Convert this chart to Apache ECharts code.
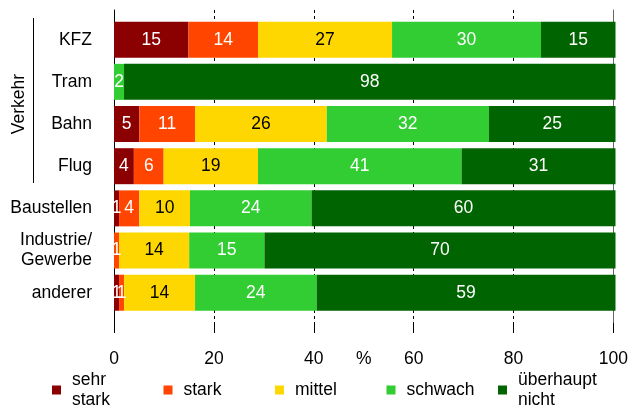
<!DOCTYPE html>
<html>
<head>
<meta charset="utf-8">
<script src="https://cdn.jsdelivr.net/npm/echarts@6/dist/echarts.min.js"></script>
<style>html,body{margin:0;padding:0;background:#fff}#c{width:631px;height:408px}</style>
</head>
<body>
<div id="c"></div>
<script>
const categories = ['KFZ', 'Tram', 'Bahn', 'Flug', 'Baustellen', 'Industrie/\nGewerbe', 'anderer'];
const seriesNames = ['sehr\nstark', 'stark', 'mittel', 'schwach', 'überhaupt\nnicht'];
const sehrStark  = [15, 0, 5, 4, 1, 0, 1];
const stark      = [14, 0, 11, 6, 4, 1, 1];
const mittel     = [27, 0, 26, 19, 10, 14, 14];
const schwach    = [30, 2, 32, 41, 24, 15, 24];
const ueberhaupt = [15, 98, 25, 31, 60, 70, 59];
const xTicks = [0, 20, 40, 60, 80, 100];

const colors = ['#8B0000', '#FF4500', '#FFD700', '#32CD32', '#006400'];
const labelColors = ['#fff', '#fff', '#000', '#fff', '#fff'];
const raw = [sehrStark, stark, mittel, schwach, ueberhaupt];
const rowSum = categories.map((_, i) => raw.reduce((s, a) => s + a[i], 0));

const FONT = 'Liberation Sans, Arial, sans-serif';
const FS = 17.5;

const series = raw.map((arr, k) => ({
  name: seriesNames[k],
  type: 'bar',
  stack: 'total',
  xAxisIndex: 0,
  yAxisIndex: 0,
  barWidth: 36,
  itemStyle: { color: colors[k] },
  label: {
    show: true,
    position: 'inside',
    color: labelColors[k],
    fontSize: FS,
    fontFamily: FONT,
    formatter: p => (arr[p.dataIndex] ? String(arr[p.dataIndex]) : '')
  },
  data: arr.map((v, i) => v / rowSum[i] * 100)
}));

const chart = echarts.init(document.getElementById('c'), null, { renderer: 'canvas' });
chart.setOption({
  animation: false,
  backgroundColor: '#fff',
  textStyle: { fontFamily: FONT },
  grid: [
    { left: 114, right: 15.5, top: 18.6, height: 295.2 },
    { left: 114, right: 15.5, top: 10, bottom: 85 }
  ],
  xAxis: [
    { gridIndex: 0, type: 'value', min: 0, max: 100, show: false },
    {
      gridIndex: 1, type: 'value', min: 0, max: 100, interval: 20,
      axisLine: { show: false },
      axisTick: { show: true, length: 10, lineStyle: { color: '#000' } },
      splitLine: { show: true, showMinLine: false, showMaxLine: false, lineStyle: { color: '#000', type: [3, 3], width: 1 } },
      axisLabel: { margin: 27, fontSize: FS, color: '#000', fontFamily: FONT,
        formatter: v => (xTicks.indexOf(v) >= 0 ? String(v) : '') },
      name: '%', nameLocation: 'middle', nameGap: 27, nameMoveOverlap: false,
      nameTextStyle: { fontSize: FS, color: '#000', fontFamily: FONT, verticalAlign: 'top' }
    }
  ],
  yAxis: [
    {
      gridIndex: 0, type: 'category', inverse: true, data: categories,
      axisLine: { show: false }, axisTick: { show: false },
      axisLabel: { margin: 22, fontSize: FS, color: '#000', fontFamily: FONT, lineHeight: 20, align: 'right' }
    },
    {
      gridIndex: 1, type: 'value', min: 0, max: 1,
      axisLine: { show: true, lineStyle: { color: '#000', width: 1 } },
      axisTick: { show: false }, axisLabel: { show: false }, splitLine: { show: false }
    },
    {
      gridIndex: 1, type: 'value', min: 0, max: 1, position: 'right',
      axisLine: { show: true, onZero: false, lineStyle: { color: '#666', width: 1 } },
      axisTick: { show: false }, axisLabel: { show: false }, splitLine: { show: false }
    }
  ],
  legend: {
    left: 52, top: 370, padding: 0,
    orient: 'horizontal',
    icon: 'rect', itemWidth: 9, itemHeight: 9, itemGap: 11.5,
    selectedMode: false,
    textStyle: { fontSize: FS, color: '#000', fontFamily: FONT, lineHeight: 20,
      width: 80, overflow: 'none', padding: [0, 0, 0, 6] },
    data: seriesNames
  },
  graphic: [
    { type: 'line', shape: { x1: 33.5, y1: 18, x2: 33.5, y2: 183 }, style: { stroke: '#000', lineWidth: 1 } },
    { type: 'text', x: 19, y: 104, rotation: Math.PI / 2,
      style: { text: 'Verkehr', fontSize: FS, fill: '#000', fontFamily: FONT, align: 'center', verticalAlign: 'middle' } }
  ],
  series: series
});
</script>
</body>
</html>
